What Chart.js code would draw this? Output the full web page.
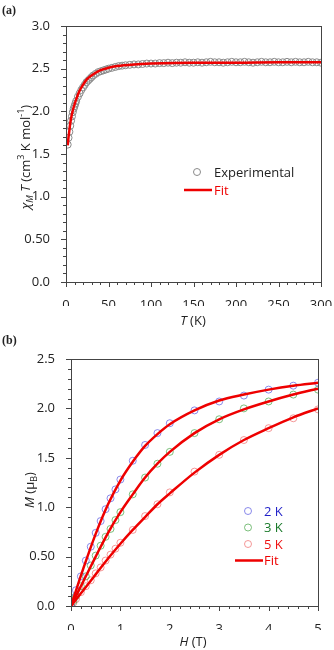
<!DOCTYPE html>
<html>
<head>
<meta charset="utf-8">
<script src="https://cdn.jsdelivr.net/npm/chart.js@4.4.1/dist/chart.umd.min.js"></script>
<style>
  html, body { margin: 0; padding: 0; background: #fff; }
  body { width: 334px; height: 650px; position: relative; overflow: hidden; font-family: "Open Sans", sans-serif; color: #222; }
  .box { position: absolute; left: 0; width: 334px; }
  .lab { position: absolute; white-space: nowrap; font-size: 13px; line-height: 1; }
  .lab sub, .lab sup { font-size: 9px; line-height: 0; }
  .lab sub { vertical-align: -3px; }
  .lab sup { vertical-align: 6px; }
  .panel { position: absolute; left: 2px; font-family: "Liberation Serif", "DejaVu Serif", serif; font-weight: bold; font-size: 12px; }
</style>
</head>
<body>
<div class="box" style="top:0;height:330px"><canvas id="chartA"></canvas></div>
<div class="box" style="top:330px;height:320px"><canvas id="chartB"></canvas></div>

<div class="panel" style="top:3px">(a)</div>
<div class="panel" style="top:333px">(b)</div>

<div class="lab" style="left:25px;top:157px;transform:translate(-50%,-50%) rotate(-90deg)"><i>χ</i><sub><i>M</i></sub>&nbsp;<i>T</i> (cm<sup>3</sup> K mol<sup>-1</sup>)</div>
<div class="lab" style="left:193px;top:320px;transform:translate(-50%,-50%)"><i>T</i> (K)</div>
<div class="lab" style="left:29px;top:490px;transform:translate(-50%,-50%) rotate(-90deg)"><i>M</i> (μ<sub>B</sub>)</div>
<div class="lab" style="left:193px;top:641px;transform:translate(-50%,-50%)"><i>H</i> (T)</div>

<script>
"use strict";

// (a) chi_M T frente a T
const tempExp = [2, 3, 4, 5, 6, 7, 8, 9, 10, 11, 12, 14, 16, 18, 20, 22, 24, 26, 28, 30,
  32, 35, 38, 41, 44, 47, 50, 54, 58, 62, 66, 70, 75, 80, 85, 90, 95, 100,
  105, 110, 115, 120, 125, 130, 135, 140, 145, 150, 155, 160, 165, 170, 175, 180, 185, 190, 195, 200,
  205, 210, 215, 220, 225, 230, 235, 240, 245, 250, 255, 260, 265, 270, 275, 280, 285, 290, 295, 300];
const chiTExp = [1.61, 1.69, 1.76, 1.83, 1.89, 1.94, 1.99, 2.03, 2.06, 2.09, 2.12, 2.17, 2.21, 2.25, 2.28, 2.31, 2.34, 2.36, 2.38, 2.40,
  2.42, 2.44, 2.46, 2.47, 2.48, 2.49, 2.50, 2.51, 2.52, 2.53, 2.535, 2.54, 2.545, 2.55, 2.55, 2.555, 2.56, 2.56,
  2.56, 2.565, 2.565, 2.57, 2.565, 2.57, 2.57, 2.575, 2.57, 2.57, 2.575, 2.57, 2.575, 2.58, 2.575, 2.575, 2.57, 2.575, 2.58, 2.575,
  2.575, 2.58, 2.575, 2.57, 2.575, 2.58, 2.575, 2.575, 2.58, 2.575, 2.575, 2.58, 2.575, 2.58, 2.575, 2.575, 2.58, 2.575, 2.575, 2.57];

const tempFit = [2, 3, 4, 5, 6, 8, 10, 12, 15, 20, 25, 30, 40, 50, 60, 80, 100, 150, 200, 250, 300];
const chiTFit = [1.60, 1.70, 1.78, 1.86, 1.92, 2.01, 2.08, 2.14, 2.22, 2.31, 2.38, 2.42, 2.48, 2.51, 2.53, 2.55, 2.56, 2.57, 2.57, 2.575, 2.575];

const xTickValsA = [0, 50, 100, 150, 200, 250, 300];
const xTickLabelsA = ["0", "50", "100", "150", "200", "250", "300"];
const yTickValsA = [0, 0.5, 1, 1.5, 2, 2.5, 3];
const yTickLabelsA = ["0.0", "0.50", "1.0", "1.5", "2.0", "2.5", "3.0"];

// (b) M frente a H
const campo = [0, 0.05, 0.1, 0.2, 0.3, 0.4, 0.5, 0.6, 0.7, 0.8, 0.9, 1.0, 1.25, 1.5, 1.75, 2.0, 2.5, 3.0, 3.5, 4.0, 4.5, 5.0];
const mag2K = [0, 0.08, 0.16, 0.30, 0.46, 0.60, 0.74, 0.86, 0.98, 1.09, 1.18, 1.28, 1.47, 1.63, 1.75, 1.85, 1.98, 2.07, 2.13, 2.19, 2.23, 2.26];
const mag3K = [0, 0.05, 0.10, 0.20, 0.30, 0.41, 0.51, 0.61, 0.70, 0.78, 0.87, 0.95, 1.13, 1.30, 1.44, 1.56, 1.75, 1.89, 2.00, 2.07, 2.14, 2.19];
const mag5K = [0, 0.035, 0.07, 0.14, 0.20, 0.26, 0.33, 0.39, 0.46, 0.52, 0.58, 0.64, 0.77, 0.91, 1.03, 1.15, 1.36, 1.53, 1.68, 1.80, 1.90, 1.99];

const campoFit = [0, 0.25, 0.5, 0.75, 1, 1.25, 1.5, 1.75, 2, 2.5, 3, 3.5, 4, 4.5, 5];
const fit2K = [0, 0.38, 0.73, 1.03, 1.27, 1.46, 1.62, 1.74, 1.84, 1.98, 2.08, 2.14, 2.19, 2.23, 2.26];
const fit3K = [0, 0.25, 0.50, 0.74, 0.95, 1.13, 1.30, 1.44, 1.56, 1.75, 1.89, 1.99, 2.07, 2.14, 2.20];
const fit5K = [0, 0.16, 0.32, 0.48, 0.63, 0.77, 0.90, 1.03, 1.14, 1.35, 1.53, 1.68, 1.80, 1.91, 2.00];

const xTickValsB = [0, 1, 2, 3, 4, 5];
const xTickLabelsB = ["0", "1", "2", "3", "4", "5"];
const yTickValsB = [0, 0.5, 1, 1.5, 2, 2.5];
const yTickLabelsB = ["0.0", "0.50", "1.0", "1.5", "2.0", "2.5"];

const pares = (xs, ys) => xs.map((x, i) => ({ x: x, y: ys[i] }));
const etiqueta = (vals, labels) => (v) => {
  const i = vals.findIndex(t => Math.abs(t - v) < 1e-9);
  return i >= 0 ? labels[i] : "";
};

const FUENTE = { family: "'Open Sans', sans-serif", size: 13 };
const ROJO = "rgb(238,0,0)";

// Marco y marcas (mayores y menores) hacia afuera
const marco = {
  id: "marco",
  afterDatasetsDraw(chart, args, opts) {
    const { ctx, chartArea: a, scales: { x, y } } = chart;
    ctx.save();
    ctx.strokeStyle = "#444";
    ctx.lineWidth = 1;
    ctx.strokeRect(a.left + 0.5, a.top + 0.5, a.right - a.left, a.bottom - a.top);
    ctx.beginPath();
    const n1 = Math.round((x.max - x.min) / opts.xMinor);
    for (let k = 0; k <= n1; k++) {
      const v = x.min + k * opts.xMinor;
      const mayor = Math.abs(v / opts.xMajor - Math.round(v / opts.xMajor)) < 1e-6;
      const px = Math.round(x.getPixelForValue(v)) + 0.5;
      ctx.moveTo(px, a.bottom);
      ctx.lineTo(px, a.bottom + (mayor ? 5 : 3));
    }
    const n2 = Math.round((y.max - y.min) / opts.yMinor);
    for (let k = 0; k <= n2; k++) {
      const v = y.min + k * opts.yMinor;
      const mayor = Math.abs(v / opts.yMajor - Math.round(v / opts.yMajor)) < 1e-6;
      const py = Math.round(y.getPixelForValue(v)) + 0.5;
      ctx.moveTo(a.left, py);
      ctx.lineTo(a.left - (mayor ? 5 : 3), py);
    }
    ctx.stroke();
    ctx.restore();
  }
};

// Leyenda dentro del área del gráfico (salta los conjuntos sin etiqueta)
const leyenda = {
  id: "leyenda",
  afterDraw(chart, args, opts) {
    const { ctx, chartArea: a } = chart;
    ctx.save();
    ctx.font = "13px 'Open Sans', sans-serif";
    ctx.textBaseline = "middle";
    chart.data.datasets.filter(ds => ds.label).forEach((ds, i) => {
      const cx = a.left + opts.x;
      const cy = a.top + opts.y + i * opts.gap;
      ctx.beginPath();
      if (ds.showLine === false) {
        ctx.arc(cx, cy, ds.pointRadius, 0, Math.PI * 2);
        ctx.lineWidth = 1;
      } else {
        ctx.moveTo(cx - 13, cy);
        ctx.lineTo(cx + 15, cy);
        ctx.lineWidth = 2.5;
      }
      ctx.strokeStyle = ds.borderColor;
      ctx.stroke();
      ctx.fillStyle = ds.textoLeyenda;
      ctx.fillText(ds.label, cx + opts.textoDx, cy + 1);
    });
    ctx.restore();
  }
};

function ejes(xMin, xMax, xStep, xVals, xLabels, yMin, yMax, yStep, yVals, yLabels, yWidth) {
  return {
    x: {
      type: "linear", min: xMin, max: xMax,
      grid: { display: false }, border: { display: false },
      ticks: { stepSize: xStep, padding: 7, color: "#222", font: FUENTE, maxRotation: 0,
        callback: etiqueta(xVals, xLabels) },
      afterFit: (s) => { s.height = 24; s.paddingLeft = 0; s.paddingRight = 0; }
    },
    y: {
      type: "linear", min: yMin, max: yMax,
      grid: { display: false }, border: { display: false },
      ticks: { stepSize: yStep, padding: 8, color: "#222", font: FUENTE,
        callback: etiqueta(yVals, yLabels) },
      afterFit: (s) => { s.width = yWidth; s.paddingTop = 0; s.paddingBottom = 0; }
    }
  };
}

const comunes = {
  responsive: true,
  maintainAspectRatio: false,
  animation: false,
  events: [],
  plugins: { legend: { display: false }, tooltip: { enabled: false } }
};

new Chart(document.getElementById("chartA"), {
  type: "scatter",
  data: {
    datasets: [
      {
        label: "Experimental",
        data: pares(tempExp, chiTExp),
        showLine: false,
        pointRadius: 3.5,
        pointBorderWidth: 1,
        borderColor: "#8a8a8a",
        backgroundColor: "rgba(0,0,0,0)",
        textoLeyenda: "#222",
        order: 1
      },
      {
        label: "Fit",
        data: pares(tempFit, chiTFit),
        showLine: true,
        pointRadius: 0,
        borderColor: ROJO,
        backgroundColor: ROJO,
        borderWidth: 2.5,
        cubicInterpolationMode: "monotone",
        textoLeyenda: ROJO,
        order: 0
      }
    ]
  },
  options: Object.assign({}, comunes, {
    layout: { padding: { left: 0, right: 13, top: 26, bottom: 24 } },
    scales: ejes(0, 300, 50, xTickValsA, xTickLabelsA, 0, 3, 0.5, yTickValsA, yTickLabelsA, 66),
    plugins: Object.assign({}, comunes.plugins, {
      marco: { xMinor: 10, xMajor: 50, yMinor: 0.1, yMajor: 0.5 },
      leyenda: { x: 131, y: 146, gap: 18, textoDx: 17 }
    })
  }),
  plugins: [marco, leyenda]
});

const circulos = (label, ys, color, texto) => ({
  label: label,
  data: pares(campo, ys),
  showLine: false,
  pointRadius: 3.5,
  pointBorderWidth: 1,
  borderColor: color,
  backgroundColor: "rgba(0,0,0,0)",
  textoLeyenda: texto,
  order: 1
});
const ajuste = (label, ys) => ({
  label: label,
  data: pares(campoFit, ys),
  showLine: true,
  pointRadius: 0,
  borderColor: ROJO,
  backgroundColor: ROJO,
  borderWidth: 2.5,
  cubicInterpolationMode: "monotone",
  textoLeyenda: ROJO,
  order: 0
});

new Chart(document.getElementById("chartB"), {
  type: "scatter",
  data: {
    datasets: [
      circulos("2 K", mag2K, "rgba(90,90,225,0.7)", "#1f1fc8"),
      circulos("3 K", mag3K, "rgba(70,165,70,0.7)", "#1a7a2a"),
      circulos("5 K", mag5K, "rgba(240,110,110,0.7)", "#ee1111"),
      ajuste("Fit", fit2K),
      ajuste("", fit3K),
      ajuste("", fit5K)
    ]
  },
  options: Object.assign({}, comunes, {
    layout: { padding: { left: 0, right: 16, top: 29, bottom: 20 } },
    scales: ejes(0, 5, 1, xTickValsB, xTickLabelsB, 0, 2.5, 0.5, yTickValsB, yTickLabelsB, 71),
    plugins: Object.assign({}, comunes.plugins, {
      marco: { xMinor: 0.2, xMajor: 1, yMinor: 0.1, yMajor: 0.5 },
      leyenda: { x: 177, y: 152, gap: 16.5, textoDx: 16 }
    })
  }),
  plugins: [marco, leyenda]
});
</script>
</body>
</html>
